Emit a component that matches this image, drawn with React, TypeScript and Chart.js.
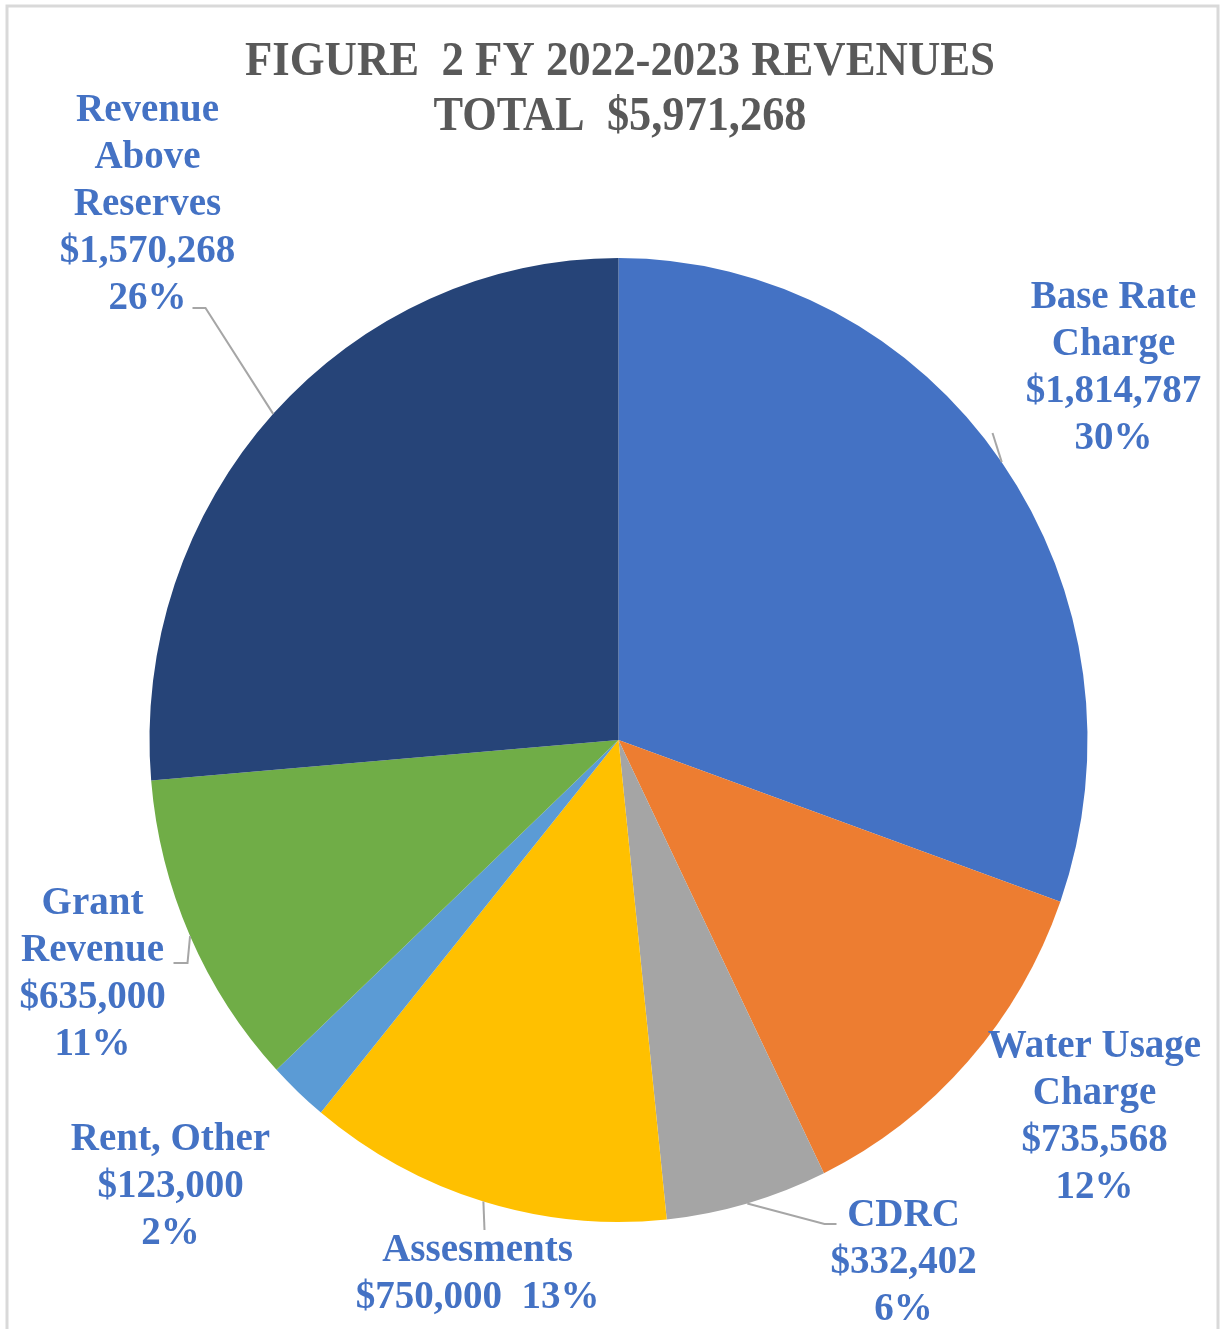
import React, { useEffect, useRef } from "react";
import { Chart, registerables } from "chart.js";

Chart.register(...registerables);

// ---- data ----
const CATEGORIES = [
  "Base Rate\nCharge",
  "Water Usage\nCharge",
  "CDRC",
  "Assesments",
  "Rent, Other",
  "Grant\nRevenue",
  "Revenue\nAbove\nReserves",
];
const VALUES = [1814787, 735568, 332402, 750000, 123000, 635000, 1570268];
const COLORS = ["#4472C4", "#ED7D31", "#A5A5A5", "#FFC000", "#5B9BD5", "#70AD47", "#264478"];
const TITLE_LINES = ["FIGURE  2 FY 2022-2023 REVENUES", "TOTAL  $5,971,268"];

// ---- layout (label placement relative to pie centre, px) ----
const LABEL_OFFSETS = [
  { dx: 495, dy: -442, inline: false, leader: [[374, -307]] },
  { dx: 476, dy: 307, inline: false, leader: [] },
  { dx: 285, dy: 476, inline: false, leader: [[206, 484], [218, 484]] },
  { dx: -141, dy: 511, inline: true, leader: [[-134, 490]] },
  { dx: -448, dy: 400, inline: false, leader: [] },
  { dx: -526, dy: 164, inline: false, leader: [[-431, 223], [-445, 223]] },
  { dx: -471, dy: -629, inline: false, leader: [[-413, -432], [-426, -432]] },
];
const TITLE_LAYOUT = [
  { y: 63, width: 750 },
  { y: 118, width: 373 },
];
const SCALE_Y = 482 / 469;
const LABEL_FONT = 'bold 39px "Liberation Serif", "Times New Roman", serif';
const LINE_H = 47;

const fmtMoney = (v: number) => "$" + v.toLocaleString("en-US");

const overlayPlugin = {
  id: "overlay",
  beforeDraw(chart: any) {
    const ctx = chart.ctx;
    ctx.save();
    ctx.fillStyle = "#ffffff";
    ctx.fillRect(0, 0, chart.width, chart.height);
    ctx.strokeStyle = "#D9D9D9";
    ctx.lineWidth = 3;
    ctx.beginPath();
    ctx.moveTo(7, chart.height + 5);
    ctx.lineTo(7, 6);
    ctx.lineTo(1218, 6);
    ctx.lineTo(1218, chart.height + 5);
    ctx.stroke();
    ctx.restore();
  },
  beforeDatasetsDraw(chart: any) {
    const meta = chart.getDatasetMeta(0);
    const a = meta.data[0];
    const ctx = chart.ctx;
    ctx.save();
    ctx.translate(a.x, a.y);
    ctx.scale(1, SCALE_Y);
    ctx.translate(-a.x, -a.y);
  },
  afterDatasetsDraw(chart: any) {
    chart.ctx.restore();
  },
  afterDraw(chart: any) {
    const ctx = chart.ctx;
    const meta = chart.getDatasetMeta(0);
    const total = VALUES.reduce((s, v) => s + v, 0);
    const cx = meta.data[0].x;
    const cy = meta.data[0].y;

    // title
    ctx.save();
    ctx.fillStyle = "#595959";
    ctx.font = 'bold 48px "Liberation Serif", "Times New Roman", serif';
    ctx.textAlign = "center";
    ctx.textBaseline = "middle";
    TITLE_LINES.forEach((t, i) => {
      const lay = TITLE_LAYOUT[i];
      const w = ctx.measureText(t).width;
      const sx = lay.width / w;
      ctx.save();
      ctx.translate(620, lay.y);
      ctx.scale(sx, 1);
      ctx.fillText(t, 0, 0);
      ctx.restore();
    });
    ctx.restore();

    // leaders + labels
    meta.data.forEach((arc: any, i: number) => {
      const p = arc.getProps(["x", "y", "startAngle", "endAngle", "outerRadius"], true);
      const mid = (p.startAngle + p.endAngle) / 2;
      const sx0 = p.x + Math.cos(mid) * p.outerRadius;
      const sy0 = p.y + Math.sin(mid) * p.outerRadius * SCALE_Y;
      const lay = LABEL_OFFSETS[i];
      if (lay.leader.length) {
        ctx.save();
        ctx.strokeStyle = "#A6A6A6";
        ctx.lineWidth = 2;
        ctx.beginPath();
        ctx.moveTo(sx0, sy0);
        lay.leader.forEach(([dx, dy]) => ctx.lineTo(cx + dx, cy + dy));
        ctx.stroke();
        ctx.restore();
      }
      const pct = Math.round((VALUES[i] / total) * 100) + "%";
      const lines = CATEGORIES[i].split("\n");
      if (lay.inline) lines.push(fmtMoney(VALUES[i]) + "  " + pct);
      else lines.push(fmtMoney(VALUES[i]), pct);
      ctx.save();
      ctx.font = LABEL_FONT;
      ctx.fillStyle = "#4472C4";
      ctx.textAlign = "center";
      ctx.textBaseline = "middle";
      lines.forEach((ln, k) => ctx.fillText(ln, cx + lay.dx, cy + lay.dy + k * LINE_H));
      ctx.restore();
    });
  },
};

export default function App() {
  const ref = useRef<HTMLCanvasElement>(null);
  useEffect(() => {
    if (!ref.current) return;
    const chart = new Chart(ref.current, {
      type: "pie",
      data: {
        labels: CATEGORIES.map((c) => c.replace(/\n/g, " ")),
        datasets: [
          {
            data: VALUES,
            backgroundColor: COLORS,
            borderWidth: 0,
            hoverOffset: 0,
            clip: false as any,
          },
        ],
      },
      options: {
        responsive: false,
        animation: false,
        layout: { padding: { left: 149.5, right: 134.5, top: 271, bottom: 120 } },
        plugins: {
          legend: { display: false },
          title: { display: false },
          tooltip: { enabled: false },
        },
      },
      plugins: [overlayPlugin],
    });
    return () => chart.destroy();
  }, []);
  return (
    <div style={{ position: "absolute", left: 0, top: 0, width: 1222, height: 1329 }}>
      <canvas ref={ref} width={1222} height={1329} style={{ display: "block" }} />
    </div>
  );
}
